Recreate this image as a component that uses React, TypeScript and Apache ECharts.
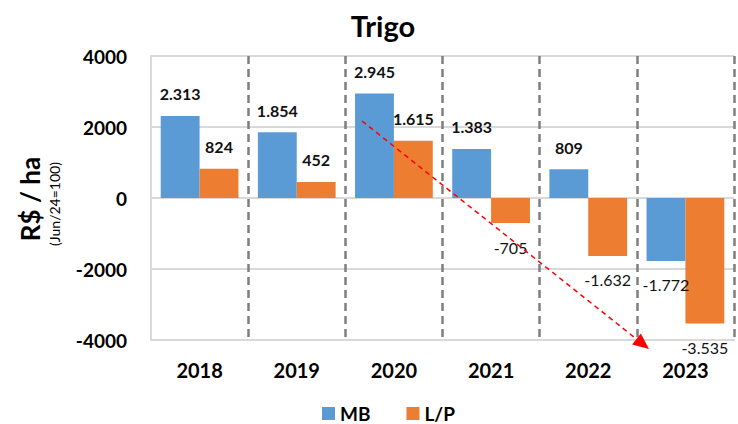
import React, { useEffect, useRef } from "react";
import * as echarts from "echarts";

const years = ["2018", "2019", "2020", "2021", "2022", "2023"];
const mbValues = [2313, 1854, 2945, 1383, 809, -1772];
const lpValues = [824, 452, 1615, -705, -1632, -3535];
const yTicks = { min: -4000, max: 4000, interval: 2000 };

const fmt = (v: number) => {
  const s = Math.abs(v).toString().replace(/\B(?=(\d{3})+(?!\d))/g, ".");
  return (v < 0 ? "-" : "") + s;
};

const FONT = "Lato, 'Open Sans', sans-serif";

function labelFor(v: number) {
  return v >= 0
    ? { show: true, position: "top", distance: 14, fontWeight: "bold", fontSize: 16, color: "#111", fontFamily: FONT, formatter: () => fmt(v) }
    : { show: true, position: "bottom", distance: 16, fontWeight: "normal", fontSize: 16, color: "#111", fontFamily: FONT, formatter: () => fmt(v) };
}

export default function App() {
  const ref = useRef<HTMLDivElement>(null);
  useEffect(() => {
    if (!ref.current) return;
    const chart = echarts.init(ref.current, undefined, { renderer: "svg" });
    // arrow annotation
    const x1 = 362, y1 = 121, x2 = 649, y2 = 349;
    const dx = x2 - x1, dy = y2 - y1;
    const len = Math.sqrt(dx * dx + dy * dy);
    const ux = dx / len, uy = dy / len;
    const hl = 16, hw = 7;
    const bx = x2 - ux * hl, by = y2 - uy * hl;
    const px = -uy * hw, py = ux * hw;

    chart.setOption({
      animation: false,
      backgroundColor: "#fff",
      textStyle: { fontFamily: FONT },
      title: {
        text: "Trigo",
        left: 378,
        textAlign: "center",
        top: 6,
        textStyle: { fontSize: 29, fontWeight: "bold", color: "#000", fontFamily: FONT },
      },
      legend: {
        left: 322,
        top: 404,
        padding: 0,
        icon: "rect",
        itemWidth: 13,
        itemHeight: 13,
        itemGap: 36,
        textStyle: { fontSize: 19, fontWeight: "bold", color: "#000", fontFamily: FONT },
        data: ["MB", "L/P"],
      },
      grid: { left: 151, right: 4, top: 56, bottom: 84 },
      xAxis: {
        type: "category",
        data: years,
        axisLine: { onZero: false, lineStyle: { color: "#d9d9d9", width: 2 } },
        axisTick: { show: false },
        axisLabel: { fontSize: 20, fontWeight: "bold", color: "#000", margin: 20, fontFamily: FONT },
        splitLine: {
          show: true,
          interval: (i: number) => i !== 0,
          lineStyle: { color: "#7f7f7f", type: [8, 5], width: 2.5 },
        },
      },
      yAxis: {
        type: "value",
        min: yTicks.min,
        max: yTicks.max,
        interval: yTicks.interval,
        axisLine: { show: true, lineStyle: { color: "#d9d9d9", width: 2 } },
        axisTick: { show: false },
        axisLabel: { fontSize: 19, fontWeight: "bold", color: "#000", margin: 24, fontFamily: FONT, formatter: (v: number) => String(v) },
        splitLine: { lineStyle: { color: "#d9d9d9", width: 2 } },
      },
      graphic: [
        {
          type: "text",
          x: 30,
          y: 199,
          rotation: Math.PI / 2,
          style: { text: "R$ / ha", fontSize: 26, fontWeight: "bold", fill: "#000", align: "center", verticalAlign: "middle", fontFamily: FONT },
        },
        {
          type: "text",
          x: 54,
          y: 204,
          rotation: Math.PI / 2,
          style: { text: "(Jun/24=100)", fontSize: 14, fill: "#000", align: "center", verticalAlign: "middle", fontFamily: FONT },
        },
        {
          type: "line",
          z: 100,
          shape: { x1, y1, x2: bx, y2: by },
          style: { stroke: "#ff0000", lineWidth: 1.5, lineDash: [5, 4] },
        },
        {
          type: "polygon",
          z: 100,
          shape: { points: [[x2, y2], [bx + px, by + py], [bx - px, by - py]] },
          style: { fill: "#ff0000" },
        },
      ],
      series: [
        {
          name: "MB",
          type: "bar",
          barGap: "0%",
          barCategoryGap: "20%",
          itemStyle: { color: "#5B9BD5" },
          data: mbValues.map((v) => ({ value: v, label: labelFor(v) })),
        },
        {
          name: "L/P",
          type: "bar",
          barGap: "0%",
          barCategoryGap: "20%",
          itemStyle: { color: "#ED7D31" },
          data: lpValues.map((v) => ({ value: v, label: labelFor(v) })),
        },
      ],
    });
    return () => chart.dispose();
  }, []);
  return <div ref={ref} style={{ position: "fixed", left: 0, top: 0, width: 738, height: 424 }} />;
}
